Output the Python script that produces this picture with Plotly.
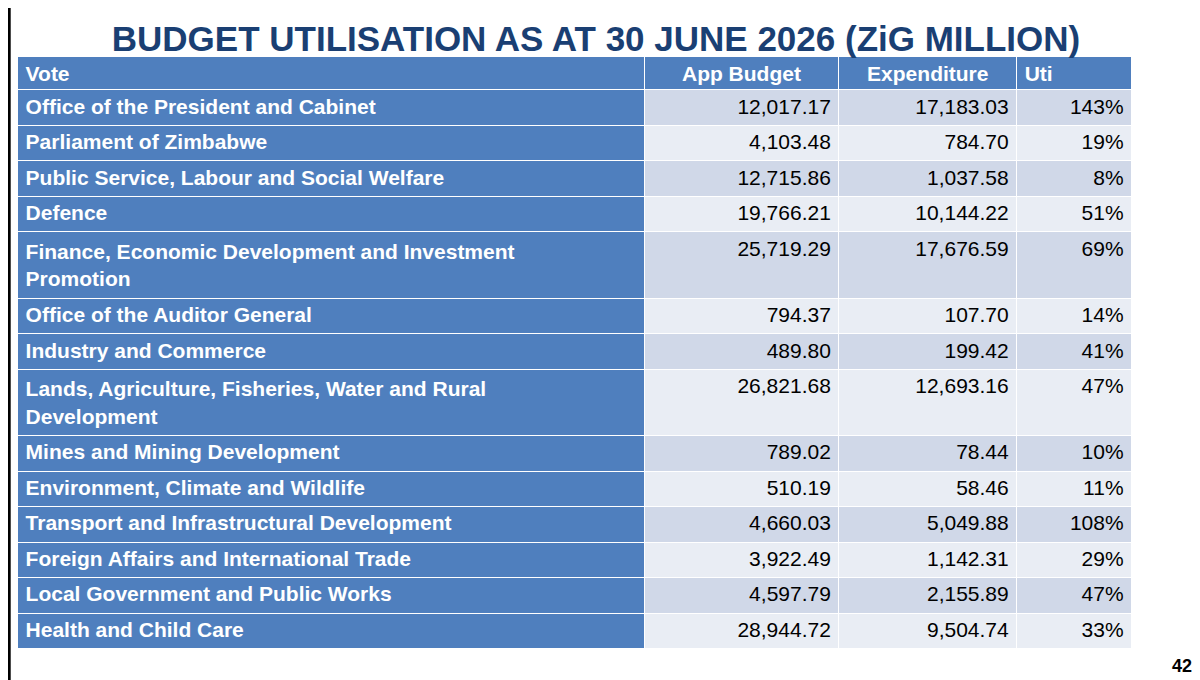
import plotly.graph_objects as go

votes = ["Office of the President and Cabinet", "Parliament of Zimbabwe",
         "Public Service, Labour and Social Welfare", "Defence",
         "Finance, Economic Development and Investment<br>Promotion",
         "Office of the Auditor General", "Industry and Commerce",
         "Lands, Agriculture, Fisheries, Water and Rural<br>Development",
         "Mines and Mining Development", "Environment, Climate and Wildlife",
         "Transport and Infrastructural Development",
         "Foreign Affairs and International Trade",
         "Local Government and Public Works", "Health and Child Care"]
app_budget = ["12,017.17", "4,103.48", "12,715.86", "19,766.21", "25,719.29", "794.37", "489.80",
              "26,821.68", "789.02", "510.19", "4,660.03", "3,922.49", "4,597.79", "28,944.72"]
expenditure = ["17,183.03", "784.70", "1,037.58", "10,144.22", "17,676.59", "107.70", "199.42",
               "12,693.16", "78.44", "58.46", "5,049.88", "1,142.31", "2,155.89", "9,504.74"]
uti = ["143%", "19%", "8%", "51%", "69%", "14%", "41%", "47%", "10%", "11%", "108%", "29%", "47%", "33%"]
headers = ["Vote", "App Budget", "Expenditure", "Uti"]

FONT = "Liberation Sans Narrow, Arial Narrow, Liberation Sans, sans-serif"
blue = "#4F7FBE"
alt = ["#D0D8E8" if i % 2 == 0 else "#E9EDF4" for i in range(len(votes))]

fig = go.Figure(go.Table(
    columnwidth=[627, 195, 178, 115],
    domain=dict(x=[0.008, 0.937], y=[0.0, 0.928]),
    header=dict(values=headers, fill_color=blue, line=dict(color="white", width=1),
                align=["left", "center", "center", "left"], height=33,
                font=dict(family=FONT, size=21, color="white", weight="bold")),
    cells=dict(values=[votes, app_budget, expenditure, uti],
               fill_color=[[blue] * len(votes), alt, alt, alt],
               line=dict(color="white", width=1),
               align=["left", "right", "right", "right"], height=35.5,
               font=dict(family=FONT, size=21, color=["white", "black", "black", "black"],
                         weight=["bold", "normal", "normal", "normal"])),
))
fig.update_layout(
    width=1200, height=680, margin=dict(l=0, r=0, t=0, b=0),
    paper_bgcolor="white",
    title=dict(text="BUDGET UTILISATION AS AT 30 JUNE 2026 (ZiG MILLION)", x=0.49, xanchor="center",
               y=0.955, yanchor="middle",
               font=dict(family=FONT, size=35, color="#1A3F73", weight="bold")),
    shapes=[dict(type="line", xref="paper", yref="paper", x0=0.001, x1=0.001, y0=0.01, y1=1,
                 line=dict(color="black", width=3))],
    annotations=[dict(text="<b>42</b>", x=0.988, y=0.015, xref="paper", yref="paper",
                      xanchor="right", yanchor="bottom", showarrow=False,
                      font=dict(family=FONT, size=18, color="black"))],
)
fig.write_html("out.html")
